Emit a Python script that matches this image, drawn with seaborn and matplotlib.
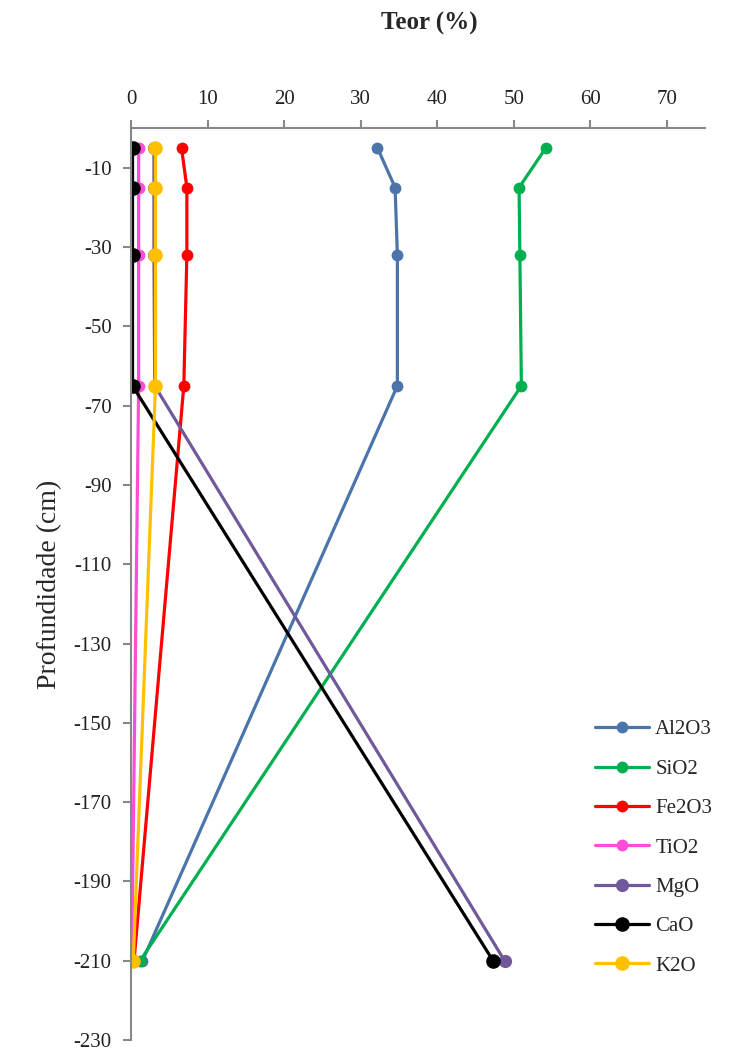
import pandas as pd
import numpy as np
import seaborn as sns
import matplotlib.pyplot as plt

# depth of each sample (cm)
depth = [-5, -15, -32, -65, -210]

# oxide contents (%) per sample, top to bottom
al2o3 = [32.2, 34.5, 34.8, 34.8, 1.5]
sio2 = [54.2, 50.7, 50.8, 51.0, 1.2]
fe2o3 = [6.6, 7.3, 7.3, 6.9, 0.4]
tio2 = [1.0, 1.0, 1.0, 1.0, 0.1]
mgo = [3.0, 3.0, 3.0, 3.1, 48.8]
cao = [0.2, 0.2, 0.2, 0.2, 47.3]
k2o = [3.2, 3.2, 3.2, 3.2, 0.3]

oxides = ['Al2O3', 'SiO2', 'Fe2O3', 'TiO2', 'MgO', 'CaO', 'K2O']
values = [al2o3, sio2, fe2o3, tio2, mgo, cao, k2o]
colors = ['#4A74AA', '#00B050', '#FF0000', '#FF4DD8', '#71589A', '#000000', '#FFC000']
msizes = [8.5, 8.5, 8.5, 8.5, 9.5, 10.5, 10.5]

rows = []
for name, vals in zip(oxides, values):
    for d, v in zip(depth, vals):
        rows.append({'oxide': name, 'teor': v, 'prof': d})
data = pd.DataFrame(rows)

sns.set_style('white')
plt.rcParams['font.family'] = ['Liberation Serif', 'DejaVu Serif']
plt.rcParams['axes.unicode_minus'] = False

fig = plt.figure(figsize=(7.43, 10.53), dpi=100)
ax = fig.add_axes([0.1763, 0.0123, 0.949 - 0.1763, 0.8784 - 0.0123])

for name, col, ms in zip(oxides, colors, msizes):
    sub = data[data['oxide'] == name]
    sns.lineplot(data=sub, x='teor', y='prof', sort=False, estimator=None,
                 orient='y', ax=ax, color=col,
                 marker='o', markersize=ms, markeredgewidth=0, linewidth=2.3,
                 label=name)

ax.set_xlim(0, 75)
ax.set_ylim(-230, 0)
ax.set_xticks(np.arange(0, 71, 10))
ax.set_yticks(np.arange(-230, -9, 20))
ax.xaxis.tick_top()
ax.xaxis.set_label_position('top')

for s in ['right', 'bottom']:
    ax.spines[s].set_visible(False)
for s in ['left', 'top']:
    ax.spines[s].set_color('#888888')
    ax.spines[s].set_linewidth(1.5)
ax.tick_params(axis='both', which='major', direction='out', length=6, width=1.5,
               color='#888888', labelsize=15, labelcolor='#222222', pad=8)
ax.tick_params(axis='x', top=True, bottom=False)
ax.tick_params(axis='y', left=True)

ax.set_xlabel('')
ax.set_ylabel('Profundidade (cm)', fontsize=20, labelpad=8)
fig.text(0.578, 0.978, 'Teor (%)', ha='center', va='center', fontsize=18,
         fontweight='bold')

leg = ax.legend(loc='lower right', bbox_to_anchor=(1.045, 0.05), frameon=False,
                fontsize=15, handlelength=2.6, labelspacing=0.95, handletextpad=0.3)

fig.savefig('out.png', dpi=100)
